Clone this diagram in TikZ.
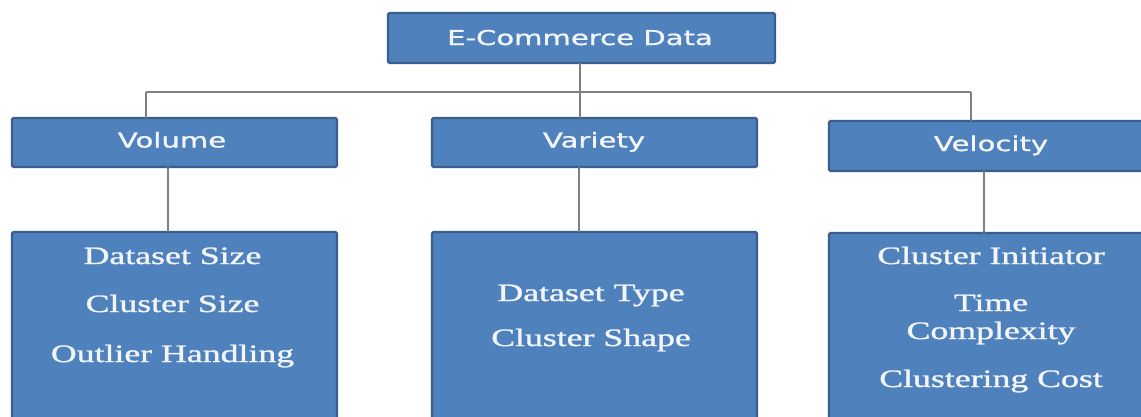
\documentclass[tikz,border=0pt]{standalone}
\usepackage{graphicx}
\usepackage{fontspec}
\setmainfont{Liberation Serif}
\newfontfamily\itemfont{Liberation Serif}[UprightFeatures={FakeBold=1.0}]
\newfontfamily\labelfont{DejaVu Sans}[UprightFeatures={FakeBold=1.0}]
\usetikzlibrary{calc}
\definecolor{boxfill}{HTML}{4F81BD}
\definecolor{boxedge}{HTML}{3A5F8E}
\definecolor{linkgray}{HTML}{7F7F7F}
\definecolor{txt}{HTML}{F2F5FA}
\newcommand\headtext[1]{\scalebox{1.42}[1]{\labelfont\fontsize{20.5}{24}\selectfont #1}}
\newcommand\itemtext[1]{\scalebox{1.43}[1]{\itemfont\fontsize{25}{28}\selectfont #1}}
\tikzset{
  x=1pt, y=-1pt,
  blk/.style={draw=boxedge, fill=boxfill, line width=2.2pt, rounded corners=1.5pt,
    inner sep=0pt, outer sep=0pt},
  head/.style={text=txt, inner sep=0pt, anchor=base},
  item/.style={text=txt, inner sep=0pt, anchor=base},
  link/.style={draw=linkgray, line width=1.8pt},
}
\begin{document}
\begin{tikzpicture}
\useasboundingbox (0,0) rectangle (1141,416);
\clip (0,0) rectangle (1141,416);
% root and first level
\node[blk, minimum width=387pt, minimum height=50pt] (root) at (581.5,38) {};
\node[head] (rootlbl) at (580,45) {\headtext{E-Commerce Data}};
\node[blk, minimum width=325pt, minimum height=49pt] (vol) at (174.5,142.5) {};
\node[head] (vollbl) at (172,147.5) {\headtext{Volume}};
\node[blk, minimum width=325pt, minimum height=49pt] (var) at (594.5,142.5) {};
\node[head] (varlbl) at (594,147.5) {\headtext{Variety}};
\node[blk, minimum width=324pt, minimum height=50pt] (vel) at (991,146) {};
\node[head] (vellbl) at (991,151) {\headtext{Velocity}};
% detail blocks
\node[blk, minimum width=325pt, minimum height=200pt] (volb) at (174.5,332) {};
\node[blk, minimum width=325pt, minimum height=200pt] (varb) at (594.5,332) {};
\node[blk, minimum width=324pt, minimum height=200pt] (velb) at (991,333) {};
% detail texts
\node[item] (v1) at (172.5,264) {\itemtext{Dataset Size}};
\node[item] (v2) at (172.5,312) {\itemtext{Cluster Size}};
\node[item] (v3) at (172.5,362) {\itemtext{Outlier Handling}};
\node[item] (a1) at (591,301) {\itemtext{Dataset Type}};
\node[item] (a2) at (591,346) {\itemtext{Cluster Shape}};
\node[item] (c1) at (991,264) {\itemtext{Cluster Initiator}};
\node[item] (c2) at (991,311) {\itemtext{Time}};
\node[item] (c3) at (991,339) {\itemtext{Complexity}};
\node[item] (c4) at (991,387) {\itemtext{Clustering Cost}};
% connectors
\coordinate (busL) at (146,92);
\coordinate (busR) at (971,92);
\draw[link] (busL) -- (busR);
\draw[link] ([xshift=-1.5pt]root.south) -- ([xshift=-1.5pt]root.south |- var.north);
\draw[link] (busL) -- (busL |- vol.north);
\draw[link] (busR) -- (busR |- vel.north);
\draw[link] ([xshift=-6.5pt]vol.south) -- ([xshift=-6.5pt]vol.south |- volb.north);
\draw[link] ([xshift=-15.5pt]var.south) -- ([xshift=-15.5pt]var.south |- varb.north);
\draw[link] ([xshift=-7pt]vel.south) -- ([xshift=-7pt]vel.south |- velb.north);
\end{tikzpicture}
\end{document}
